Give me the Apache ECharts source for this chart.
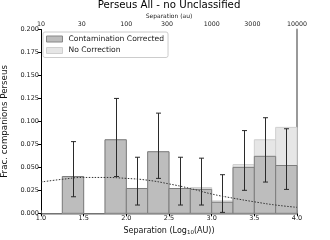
<!DOCTYPE html>
<html><head><meta charset="utf-8">
<script src="https://cdn.jsdelivr.net/npm/echarts@6/dist/echarts.min.js"></script>
<style>html,body{margin:0;padding:0;background:#fff}#c{width:330px;height:240px}</style>
</head><body><div id="c"></div>
<script>
// Bin edges (log10 AU), bins of width 0.25
var binStarts = [1.0, 1.25, 1.5, 1.75, 2.0, 2.25, 2.5, 2.75, 3.0, 3.25, 3.5, 3.75];
var binWidth = 0.25;
var corrected = [0, 0.040, 0, 0.080, 0.027, 0.067, 0.027, 0.026, 0.012, 0.050, 0.062, 0.052];
var noCorrection = [0, 0.040, 0, 0.080, 0.027, 0.067, 0.027, 0.028, 0.0135, 0.053, 0.080, 0.0935];
// Error bars: centre, low, high
var errX = [1.375, 1.875, 2.125, 2.375, 2.625, 2.875, 3.125, 3.375, 3.625, 3.875];
var errLow = [0.018, 0.040, 0.009, 0.038, 0.009, 0.009, 0.001, 0.025, 0.034, 0.026];
var errHigh = [0.078, 0.125, 0.061, 0.109, 0.061, 0.060, 0.042, 0.090, 0.104, 0.092];
// Fitted curve
var fitX = [1.0, 1.25, 1.5, 1.75, 2.0, 2.25, 2.5, 2.75, 3.0, 3.25, 3.5, 3.75, 4.0];
var fitY = [0.034, 0.037, 0.039, 0.039, 0.038, 0.036, 0.032, 0.027, 0.021, 0.0165, 0.0125, 0.009, 0.0065];
// Top axis tick labels (au)
var topTicks = [10, 30, 100, 300, 1000, 3000, 10000];
var yTicks = [0, 0.025, 0.05, 0.075, 0.1, 0.125, 0.15, 0.175, 0.2];

var FONT = 'DejaVu Sans';
function histData(vals){ return binStarts.map(function(s,i){ return [s, s+binWidth, vals[i]]; }); }
function histRender(fill, edge){
  return function(params, api){
    var v = api.value(2);
    if (!v) return null;
    var p0 = api.coord([api.value(0), v]);
    var p1 = api.coord([api.value(1), 0]);
    return {type:'rect', shape:{x:p0[0], y:p0[1], width:p1[0]-p0[0], height:p1[1]-p0[1]},
      style:{fill:fill, stroke:edge, lineWidth:1}};
  };
}
var chart = echarts.init(document.getElementById('c'), null, {renderer:'canvas'});
chart.setOption({
  animation:false,
  title:{text:'Perseus All - no Unclassified', left:169, textAlign:'center', top:0, padding:0,
    textStyle:{fontFamily:FONT, fontSize:10.2, fontWeight:'normal', color:'#000'}},
  grid:{left:41, right:33, top:29.5, bottom:26.7, containLabel:false, outerBoundsMode:'none'},
  legend:{orient:'vertical', left:43, top:32, padding:[3,4,3,3], itemGap:3.5, itemWidth:16, itemHeight:6,
    borderColor:'#ccc', borderWidth:1, borderRadius:2, icon:'rect',
    textStyle:{fontFamily:FONT, fontSize:7.6, color:'#222', padding:[0,0,0,1]},
    data:[{name:'Contamination Corrected', itemStyle:{color:'#bdbdbd', borderColor:'#888', borderWidth:1}},
          {name:'No Correction', itemStyle:{color:'#e6e6e6', borderColor:'#cfcfcf', borderWidth:1}}]},
  xAxis:[{type:'value', min:1, max:4, interval:0.5, position:'bottom',
    name:'Separation (Log{sub|10}(AU))', nameLocation:'middle', nameGap:12.5, nameMoveOverlap:false,
    nameTextStyle:{fontFamily:FONT, fontSize:8, color:'#111', rich:{sub:{fontSize:5.5, verticalAlign:'bottom', padding:[4,0,0,0], fontFamily:FONT}}},
    axisLine:{lineStyle:{color:'#000', width:1}}, axisTick:{length:3, lineStyle:{color:'#000'}},
    axisLabel:{fontFamily:FONT, fontSize:6.5, color:'#222', margin:2, formatter:function(v){return v.toFixed(1);}},
    splitLine:{show:false}},
   {type:'value', min:1, max:4, position:'top',
    name:'Separation (au)', nameLocation:'middle', nameGap:13.5, nameMoveOverlap:false,
    nameTextStyle:{fontFamily:FONT, fontSize:6, color:'#222', verticalAlign:'middle'},
    axisLine:{lineStyle:{color:'#999', width:1.5}},
    axisTick:{length:3, lineStyle:{color:'#555'}, customValues: topTicks.map(function(t){return Math.log10(t);})},
    axisLabel:{fontFamily:FONT, fontSize:6.3, color:'#222', margin:2,
      customValues: topTicks.map(function(t){return Math.log10(t);}),
      formatter:function(v){return String(Math.round(Math.pow(10,v)));}},
    splitLine:{show:false}}],
  yAxis:[{type:'value', min:0, max:0.2, interval:0.025,
    name:'Frac. companions Perseus', nameLocation:'middle', nameGap:30,
    nameTextStyle:{fontFamily:FONT, fontSize:8.7, color:'#111'},
    axisLine:{show:true, lineStyle:{color:'#000', width:1}}, axisTick:{show:true, length:3, lineStyle:{color:'#000'}},
    axisLabel:{fontFamily:FONT, fontSize:6.5, color:'#222', margin:2, formatter:function(v){return v.toFixed(3);}},
    splitLine:{show:false}},
   {type:'value', min:0, max:0.2, position:'right', axisLine:{show:true, lineStyle:{color:'#999', width:2}},
    axisTick:{show:false}, axisLabel:{show:false}, splitLine:{show:false}}],
  series:[
    {name:'No Correction', type:'custom', xAxisIndex:0, yAxisIndex:0, data:histData(noCorrection),
      itemStyle:{color:'#e6e6e6', borderColor:'#cfcfcf'}, renderItem:histRender('#e6e6e6', '#cfcfcf'), z:1},
    {name:'Contamination Corrected', type:'custom', xAxisIndex:0, yAxisIndex:0, data:histData(corrected),
      itemStyle:{color:'#bdbdbd', borderColor:'#888'}, renderItem:histRender('#bdbdbd', '#7d7d7d'), z:2},
    {name:'err', type:'custom', data: errX.map(function(x,i){return [x, errLow[i], errHigh[i]];}), z:3,
      renderItem:function(params, api){
        var lo = api.coord([api.value(0), api.value(1)]);
        var hi = api.coord([api.value(0), api.value(2)]);
        var x = Math.round(lo[0]) + 0.5, c = 2.5, col = '#2a2a2a';
        return {type:'group', children:[
          {type:'line', shape:{x1:x, y1:lo[1], x2:x, y2:hi[1]}, style:{stroke:col, lineWidth:1}},
          {type:'line', shape:{x1:x-c, y1:lo[1], x2:x+c, y2:lo[1]}, style:{stroke:col, lineWidth:1}},
          {type:'line', shape:{x1:x-c, y1:hi[1], x2:x+c, y2:hi[1]}, style:{stroke:col, lineWidth:1}}
        ]};
      }},
    {name:'fit', type:'line', smooth:true, symbol:'none', z:4,
      data: fitX.map(function(x,i){return [x, fitY[i]];}),
      lineStyle:{color:'#333', width:1, type:[1.5,1.5]}}
  ]
});
</script></body></html>
